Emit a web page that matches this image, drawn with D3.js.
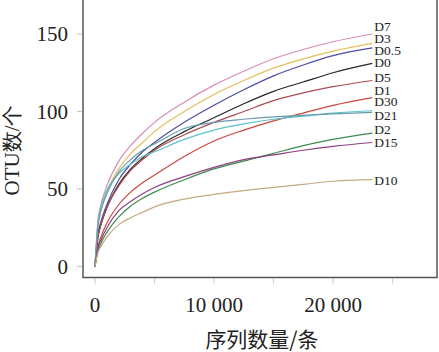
<!DOCTYPE html>
<html>
<head>
<meta charset="utf-8">
<script src="https://cdn.jsdelivr.net/npm/d3@7"></script>
<style>
  body { margin: 0; background: #fff; }
  svg { display: block; }
</style>
</head>
<body>
<div id="chart"></div>
<script>
// sequence counts where each curve is sampled
const seqCounts = [0, 250, 500, 1000, 2000, 3000, 4000, 5000, 7500, 10000, 12500, 15000, 17500, 20000, 23300];

const seriesNames = ['D7', 'D3', 'D0.5', 'D0', 'D5', 'D1', 'D30', 'D21', 'D2', 'D15', 'D10'];
const seriesColors = ['#d68db6', '#e6bf5c', '#4d4d9e', '#262626', '#ad4a52', '#c9463e',
  '#5cc2cc', '#6c9cae', '#3f8a4c', '#8c3f82', '#c2aa82'];

const otuD7 = [0, 30, 40, 52, 68, 78, 86, 93, 106, 117, 126, 134, 140, 145, 150];
const otuD3 = [0, 26, 36, 48, 63, 73, 80, 87, 100, 111, 120, 128, 134, 139, 144];
const otuD05 = [0, 21, 29, 40, 56, 66, 74, 80, 93, 104, 114, 123, 130, 136, 141];
const otuD0 = [0, 19, 27, 38, 53, 63, 70, 76, 87, 96, 105, 113, 119, 125, 131];
const otuD5 = [0, 19, 27, 38, 52, 62, 69, 75, 85, 93, 100, 107, 112, 116, 120];
const otuD1 = [0, 13, 19, 28, 40, 48, 54, 59, 71, 81, 88, 94, 99, 104, 109];
const otuD30 = [0, 28, 38, 49, 60, 66, 71, 74, 82, 88, 92, 95, 97, 99, 100.5];
const otuD21 = [0, 26, 36, 47, 61, 69, 75, 79, 89, 93, 95, 96.5, 97.5, 98.5, 99.5];
const otuD2 = [0, 10, 15, 22, 32, 39, 44, 48, 56, 63, 68, 73, 78, 82, 86];
const otuD15 = [0, 12, 17, 25, 36, 42, 47, 51, 58, 64, 69, 72, 75, 77.5, 80];
const otuD10 = [0, 9, 13, 19, 27, 31.5, 35, 38.5, 43.5, 46.5, 49, 51, 53, 55, 56];

const seriesValues = [otuD7, otuD3, otuD05, otuD0, otuD5, otuD1, otuD30, otuD21, otuD2, otuD15, otuD10];

const xTicks = [0, 5000, 10000, 15000, 20000, 25000];
const xTickLabels = ['0', '', '10 000', '', '20 000', ''];
const yTicks = [0, 50, 100, 150];

// label nudges (px) so the end labels do not overlap
const labelNudge = [-8, -5, 2, -1, -3, -7, -9, 3, -4, 0, 1];

const width = 439;
const height = 352;
const margin = { top: 0, right: 2, bottom: 75, left: 83 };

const svg = d3.select('#chart')
  .append('svg')
  .attr('width', width)
  .attr('height', height);

const x = d3.scaleLinear()
  .domain([0, 5000])
  .range([95, 154.5]);

const y = d3.scaleLinear()
  .domain([0, 50])
  .range([266.5, 189]);

const plotBottom = height - margin.bottom + 0.5;
const serif = '"Liberation Serif", "Times New Roman", "DejaVu Serif", serif';

// y ticks
svg.append('g')
  .selectAll('line')
  .data(yTicks)
  .join('line')
  .attr('x1', margin.left - 6)
  .attr('x2', margin.left - 1)
  .attr('y1', (d) => y(d))
  .attr('y2', (d) => y(d))
  .attr('stroke', '#c8c8c8')
  .attr('stroke-width', 1.2);

svg.append('g')
  .selectAll('text')
  .data(yTicks)
  .join('text')
  .attr('x', 68)
  .attr('y', (d) => y(d))
  .attr('dy', '0.35em')
  .attr('text-anchor', 'end')
  .attr('font-family', serif)
  .attr('font-size', 21)
  .attr('fill', '#222')
  .text((d) => d);

// x ticks
svg.append('g')
  .selectAll('line')
  .data(xTicks)
  .join('line')
  .attr('x1', (d) => x(d))
  .attr('x2', (d) => x(d))
  .attr('y1', plotBottom + 1)
  .attr('y2', plotBottom + 6)
  .attr('stroke', '#d0d0d0')
  .attr('stroke-width', 1.2);

svg.append('g')
  .selectAll('text')
  .data(xTicks)
  .join('text')
  .attr('x', (d) => x(d))
  .attr('y', 312)
  .attr('text-anchor', 'middle')
  .attr('font-family', serif)
  .attr('font-size', 21)
  .attr('fill', '#222')
  .text((d, i) => xTickLabels[i]);

// curves
const line = d3.line()
  .x((d, i) => x(seqCounts[i]))
  .y((d) => y(d))
  .curve(d3.curveMonotoneX);

svg.append('g')
  .selectAll('path')
  .data(seriesValues)
  .join('path')
  .attr('fill', 'none')
  .attr('stroke', (d, i) => seriesColors[i])
  .attr('stroke-width', 1.2)
  .attr('d', line);

// end labels
const lastX = x(seqCounts[seqCounts.length - 1]);
svg.append('g')
  .selectAll('text')
  .data(seriesValues)
  .join('text')
  .attr('x', lastX + 2)
  .attr('y', (d, i) => y(d[d.length - 1]) + labelNudge[i])
  .attr('dy', '0.35em')
  .attr('font-family', serif)
  .attr('font-size', 13.5)
  .attr('fill', '#222')
  .text((d, i) => seriesNames[i]);

// frame
svg.append('path')
  .attr('fill', 'none')
  .attr('stroke', '#555')
  .attr('stroke-width', 1.5)
  .attr('d', `M${margin.left},0V${plotBottom}H${width - margin.right}V0`);

// axis titles
svg.append('text')
  .attr('x', 262)
  .attr('y', 347)
  .attr('text-anchor', 'middle')
  .attr('font-family', '"Noto Sans CJK SC", serif')
  .attr('font-size', 21)
  .attr('fill', '#222')
  .text('序列数量/条');

svg.append('text')
  .attr('transform', 'translate(19,150) rotate(-90)')
  .attr('text-anchor', 'middle')
  .attr('font-family', serif)
  .attr('font-size', 21)
  .attr('fill', '#222')
  .text('OTU数/个');
</script>
</body>
</html>
